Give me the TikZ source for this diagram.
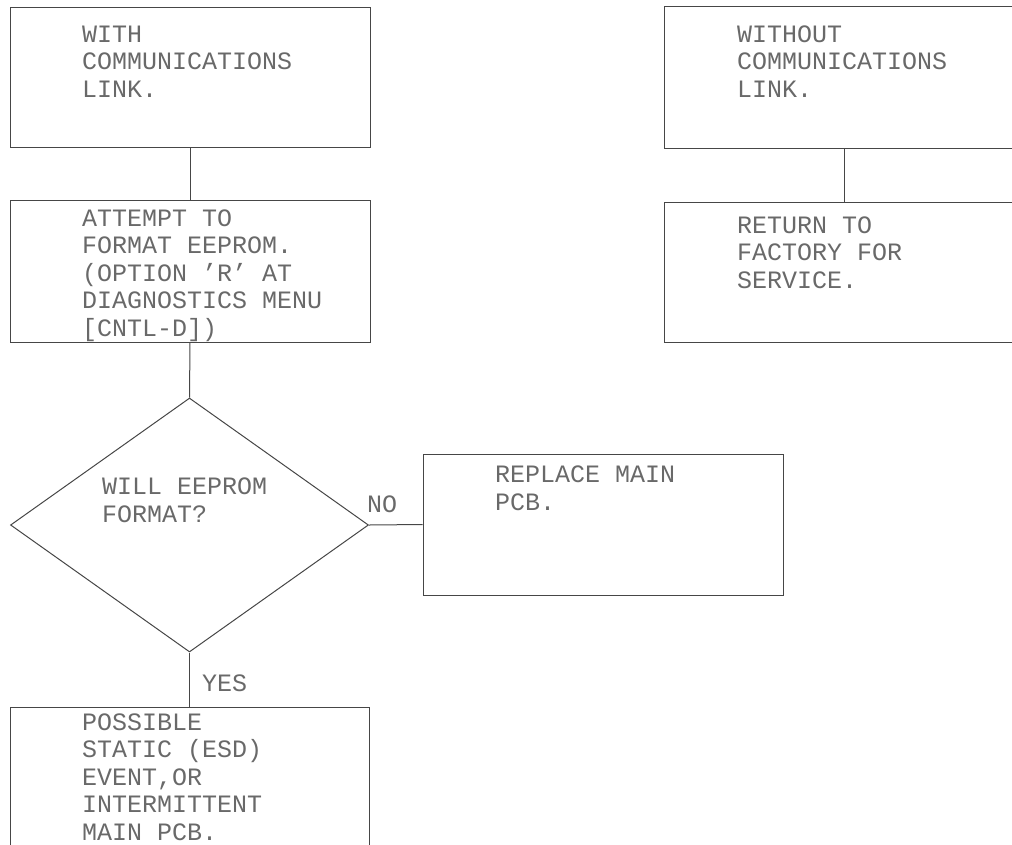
\documentclass[tikz,border=0pt]{standalone}
\usepackage{fontspec}
\setmonofont{Liberation Mono}
\usetikzlibrary{shapes.geometric}
\definecolor{ink}{RGB}{70,70,70}
\definecolor{txt}{RGB}{105,105,105}
\tikzset{
  box/.style={draw=ink, line width=1pt, rectangle, inner sep=0pt},
  decision/.style={draw=ink, line width=1pt, diamond, inner sep=0pt},
  % multi-line labels are placed by the baseline of their last line
  label/.style={text=txt, inner sep=0pt, anchor=base west, align=left,
    font=\fontsize{25}{27.5}\selectfont\ttfamily},
  link/.style={draw=ink, line width=1pt}
}
\begin{document}
\begin{tikzpicture}[x=1pt,y=-1pt]
\useasboundingbox (0,0) rectangle (1012,844);
\begin{scope}
\clip (0,0) rectangle (1012,844);
% left column
\node[box, minimum width=360pt, minimum height=140pt] (with) at (190,77) {};
\node[box, minimum width=360pt, minimum height=142pt] (attempt) at (190,271) {};
\node[decision, minimum width=358pt, minimum height=254pt] (q) at (189.5,525) {};
\node[box, minimum width=360pt, minimum height=141pt] (replace) at (603,524.5) {};
\node[box, minimum width=359pt, minimum height=193pt] (possible) at (189.5,803.5) {};
% right column
\node[box, minimum width=360pt, minimum height=142pt] (without) at (844,77) {};
\node[box, minimum width=360pt, minimum height=140pt] (return) at (844,272) {};

\draw[link] (with.south) -- (attempt.north);
\draw[link] (attempt.south) -- (q.north);
\draw[link] (q.east) -- (replace.west);
\draw[link] (q.south) -- (possible.north);
\draw[link] (without.south) -- (return.north);
\end{scope}

% texts
\node[label] (t1) at (82,97) {WITH\\COMMUNICATIONS\\LINK.};
\node[label] (t2) at (82,336) {ATTEMPT TO\\FORMAT EEPROM.\\(OPTION ’R’ AT\\DIAGNOSTICS MENU\\{[}CNTL-D])};
\node[label] (t3) at (102,522) {WILL EEPROM\\FORMAT?};
\node[label] (no) at (367,512) {NO};
\node[label] (yes) at (202,691) {YES};
\node[label] (t4) at (495,510) {REPLACE MAIN\\PCB.};
\node[label] (t5) at (82,840) {POSSIBLE\\STATIC (ESD)\\EVENT,OR\\INTERMITTENT\\MAIN PCB.};
\node[label] (t6) at (737,97) {WITHOUT\\COMMUNICATIONS\\LINK.};
\node[label] (t7) at (737,288) {RETURN TO\\FACTORY FOR\\SERVICE.};
\end{tikzpicture}
\end{document}
